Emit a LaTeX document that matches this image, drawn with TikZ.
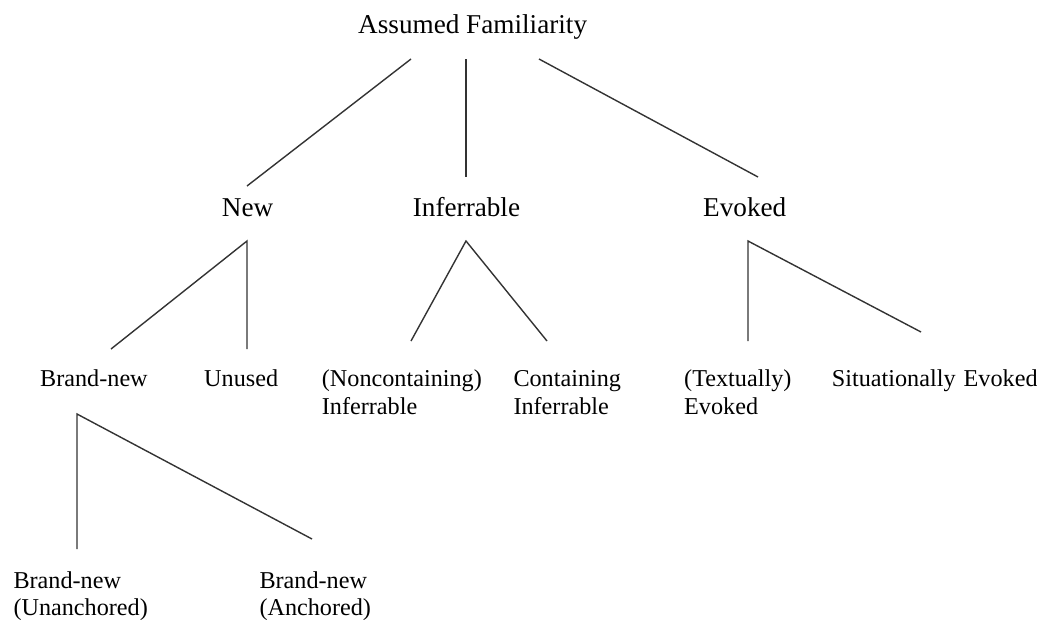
\documentclass[tikz,border=0pt]{standalone}
\usepackage{fontspec}
\setmainfont{Liberation Serif}
\tikzset{
    level label/.style={anchor=base west, inner sep=0pt,
        font=\fontsize{27.2}{32}\selectfont},
    leaf label/.style={anchor=base west, inner sep=0pt, align=left,
        text width=10cm, font=\fontsize{24.2}{27.5}\selectfont},
    branch/.style={line width=1.4pt, black!80}
}

\begin{document}
\begin{tikzpicture}[x=1pt, y=-1pt]
        \useasboundingbox (0,0) rectangle (1037,619);
        % labels
        \node[level label] (fam) at (358,33.3) {Assumed Familiarity};
        \node[level label] (new) at (221.7,216.7) {New};
        \node[level label] (inf) at (412.7,216.7) {Inferrable};
        \node[level label] (evk) at (703,216.7) {Evoked};
        \node[leaf label] (brand) at (40,386.7) {Brand-new};
        \node[leaf label] (unused) at (204,386.7) {Unused};
        \node[leaf label] (noncont) at (321.7,386.7) {(Noncontaining)\\Inferrable};
        \node[leaf label] (cont) at (513.3,386.7) {Containing\\Inferrable};
        \node[leaf label] (textev) at (684,386.7) {(Textually)\\Evoked};
        \node[leaf label] (sitev) at (831.7,386.7) {Situationally Evoked};
        \node[leaf label] (unanch) at (13.3,588.3) {Brand-new\\(Unanchored)};
        \node[leaf label] (anch) at (259.3,588.3) {Brand-new\\(Anchored)};
        % branch ends
        \coordinate (fam-l) at (411,59);
        \coordinate (fam-m) at (466,59);
        \coordinate (fam-r) at (539,59);
        \coordinate (new-in) at (247,186);
        \coordinate (inf-in) at (466,177);
        \coordinate (evk-in) at (758,177);
        \coordinate (new-out) at (247,241);
        \coordinate (inf-out) at (466,241);
        \coordinate (evk-out) at (748,241);
        \coordinate (brand-in) at (111,349);
        \coordinate (unused-in) at (247,349);
        \coordinate (noncont-in) at (411,341);
        \coordinate (cont-in) at (547,341);
        \coordinate (textev-in) at (748,341);
        \coordinate (sitev-in) at (921,332);
        \coordinate (brand-out) at (77,414);
        \coordinate (unanch-in) at (77,549);
        \coordinate (anch-in) at (312,539);
        % branches
        \draw[branch] (fam-l) -- (new-in);
        \draw[branch] (fam-m) -- (inf-in);
        \draw[branch] (fam-r) -- (evk-in);
        \draw[branch] (brand-in) -- (new-out) -- (unused-in);
        \draw[branch] (noncont-in) -- (inf-out) -- (cont-in);
        \draw[branch] (textev-in) -- (evk-out) -- (sitev-in);
        \draw[branch] (unanch-in) -- (brand-out) -- (anch-in);
    \end{tikzpicture}
\end{document}
